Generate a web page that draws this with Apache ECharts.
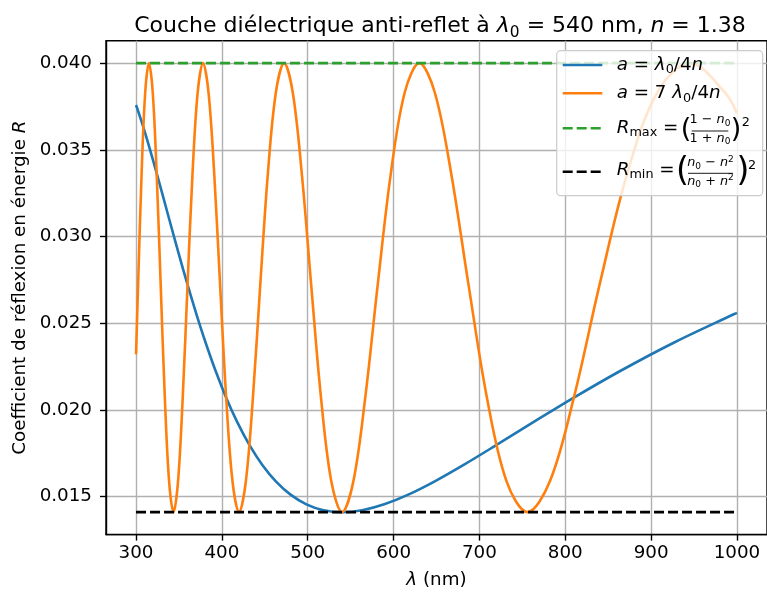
<!DOCTYPE html>
<html>
<head>
<meta charset="utf-8">
<script src="https://cdn.jsdelivr.net/npm/echarts@6/dist/echarts.min.js"></script>
<style>
  html, body { margin: 0; padding: 0; background: #fff; }
  #chart { width: 767px; height: 594px; }
</style>
</head>
<body>
<div id="chart"></div>
<script>
// courbe a = lambda0/4n
const lamBlue = [300, 301.40, 308.57, 316.10, 324.00, 332.31, 341.05, 350.27, 360.00, 370.29, 381.18, 392.73,
  405.00, 418.06, 432.00, 446.90, 462.86, 480.00, 498.46, 518.40, 540.00, 563.48, 589.09, 617.14, 648.00,
  682.11, 720.00, 762.35, 810.00, 864.00, 925.71, 996.92, 1000];
const rBlue = [0.037587, 0.037388, 0.036294, 0.035043, 0.033656, 0.032155, 0.030566, 0.028914, 0.027228, 0.025535,
  0.023866, 0.022249, 0.020713, 0.019284, 0.017989, 0.016850, 0.015888, 0.015121, 0.014563, 0.014223, 0.014111,
  0.014223, 0.014563, 0.015121, 0.015888, 0.016850, 0.017989, 0.019284, 0.020713, 0.022249, 0.023866, 0.025535,
  0.025603];

// courbe a = 7 lambda0/4n
const lamOrange = [300, 302.40, 306.49, 310.68, 315.00, 319.44, 324.00, 328.70, 333.53, 338.51, 343.64, 348.92,
  354.38, 360.00, 365.81, 371.80, 378.00, 384.41, 391.03, 397.89, 405.00, 412.36, 420.00, 427.92, 436.15,
  444.71, 453.60, 462.86, 472.50, 482.55, 493.04, 504.00, 515.45, 527.44, 540.00, 553.17, 567.00, 581.54,
  596.84, 612.97, 630.00, 648.00, 667.06, 687.27, 708.75, 731.61, 756.00, 782.07, 810.00, 840.00, 872.31,
  907.20, 945.00, 986.09, 1000];
const rOrange = [0.023212, 0.027228, 0.033656, 0.038308, 0.040000, 0.038308, 0.033656, 0.027228, 0.020713, 0.015888,
  0.014111, 0.015888, 0.020713, 0.027228, 0.033656, 0.038308, 0.040000, 0.038308, 0.033656, 0.027228, 0.020713,
  0.015888, 0.014111, 0.015888, 0.020713, 0.027228, 0.033656, 0.038308, 0.040000, 0.038308, 0.033656, 0.027228,
  0.020713, 0.015888, 0.014111, 0.015888, 0.020713, 0.027228, 0.033656, 0.038308, 0.040000, 0.038308, 0.033656,
  0.027228, 0.020713, 0.015888, 0.014111, 0.015888, 0.020713, 0.027228, 0.033656, 0.038308, 0.040000, 0.038308,
  0.037099];

const lamRange = [300, 1000];
const rMax = 0.040000;
const rMin = 0.014111;

const xTicks = [300, 400, 500, 600, 700, 800, 900, 1000];
const yTicks = [0.015, 0.020, 0.025, 0.030, 0.035, 0.040];

const F = 'DejaVu Sans';
const FS = 18.3;

function rich(fs, lh) {
  const s = Math.round(fs * 0.7 * 10) / 10;
  return {
    r: { fontFamily: F, fontSize: fs, lineHeight: lh, color: '#000', verticalAlign: 'middle' },
    i: { fontFamily: F, fontSize: fs, lineHeight: lh, color: '#000', fontStyle: 'italic', verticalAlign: 'middle' },
    sub: { fontFamily: F, fontSize: s, lineHeight: s, color: '#000', verticalAlign: 'bottom' },
    sup: { fontFamily: F, fontSize: s, lineHeight: s, color: '#000', verticalAlign: 'top' }
  };
}

function txt(x, y, text, fs, lh, align) {
  return {
    type: 'text', x: x, y: y, z: 110,
    style: { text: text, rich: rich(fs, lh), fontFamily: F, fontSize: fs, fill: '#000',
      align: align || 'left', verticalAlign: 'middle' }
  };
}
function seg(x1, y1, x2, y2, color, w, dash) {
  return {
    type: 'line', z: 110,
    shape: { x1: x1, y1: y1, x2: x2, y2: y2 },
    style: { stroke: color, lineWidth: w, lineDash: dash || null }
  };
}

const pairs = (xs, ys) => xs.map((x, i) => [x, ys[i]]);

const legendParts = [
  {
    type: 'rect', z: 105,
    shape: { x: 556.7, y: 50.7, width: 206, height: 145, r: 4 },
    style: { fill: 'rgba(255,255,255,0.8)', stroke: '#cccccc', lineWidth: 1.2 }
  },
  seg(562.7, 65, 602.3, 65, '#1f77b4', 2.6),
  seg(562.7, 93.3, 602.3, 93.3, '#ff7f0e', 2.6),
  seg(562.7, 128.3, 602.3, 128.3, '#2ca02c', 2.6, [10, 4]),
  seg(562.7, 171.7, 602.3, 171.7, '#000000', 2.6, [10, 4]),
  txt(616.7, 65, '{i|a}{r| = }{i|λ}{sub|0}{r|/4}{i|n}', FS, 22.8),
  txt(616.7, 93.3, '{i|a}{r| = 7 }{i|λ}{sub|0}{r|/4}{i|n}', FS, 22.8),
  // R_max
  txt(616.7, 127.8, '{i|R}{sub|max}{r| =}', FS, 22.8),
  txt(686, 129.5, '(', 27, 30, 'center'),
  txt(710, 120, '{r|1 − }{i|n}{sub|0}', 12.8, 16, 'center'),
  seg(691.7, 131, 728.3, 131, '#000', 0.9),
  txt(710, 138.5, '{r|1 + }{i|n}{sub|0}', 12.8, 16, 'center'),
  txt(736, 129.5, ')', 27, 30, 'center'),
  txt(741.7, 122.5, '{r|2}', 12.8, 16),
  // R_min
  txt(616.7, 170, '{i|R}{sub|min}{r| =}', FS, 22.8),
  txt(682.5, 172.5, '(', 33, 36, 'center'),
  txt(710.5, 163, '{i|n}{sub|0}{r| − }{i|n}{sup|2}', 12.8, 16, 'center'),
  seg(688, 173.3, 733, 173.3, '#000', 0.9),
  txt(710.5, 181.5, '{i|n}{sub|0}{r| + }{i|n}{sup|2}', 12.8, 16, 'center'),
  txt(743, 172.5, ')', 33, 36, 'center'),
  txt(748, 165.5, '{r|2}', 12.8, 16)
];

const chart = echarts.init(document.getElementById('chart'));
chart.setOption({
  animation: false,
  backgroundColor: '#fff',
  title: {
    text: '{r|Couche diélectrique anti-reflet à }{i|λ}{sub|0}{r| = 540 nm, }{i|n}{r| = 1.38}',
    left: 435, top: 8, textAlign: 'center',
    textStyle: { fontFamily: F, fontSize: 22, fontWeight: 'normal', color: '#000', rich: rich(22, 27.4) }
  },
  grid: {
    left: 106, top: 40.7, width: 666.6, height: 497.1,
    show: true, borderColor: '#000', borderWidth: 1.4, backgroundColor: 'transparent'
  },
  xAxis: {
    type: 'value', min: 265, max: 1035,
    name: '{i|λ}{r| (nm)}', nameLocation: 'middle', nameGap: 34,
    nameTextStyle: { fontFamily: F, fontSize: FS, color: '#000', rich: rich(FS, 22.8) },
    axisLine: { show: true, onZero: false, lineStyle: { color: '#000', width: 1.4 } },
    axisTick: { show: true, length: 6, customValues: xTicks, lineStyle: { color: '#000', width: 1.4 } },
    axisLabel: { customValues: xTicks, color: '#000', fontFamily: F, fontSize: FS, margin: 10,
      formatter: v => String(v) },
    splitLine: { show: true, lineStyle: { color: '#b0b0b0', width: 1.4 } }
  },
  yAxis: {
    type: 'value', min: 0.012817, max: 0.041294,
    name: '{r|Coefficient de réflexion en énergie }{i|R}', nameLocation: 'middle', nameGap: 73, nameRotate: 90,
    nameTextStyle: { fontFamily: F, fontSize: FS, color: '#000', rich: rich(FS, 22.8) },
    axisLine: { show: true, onZero: false, lineStyle: { color: '#000', width: 1.4 } },
    axisTick: { show: true, length: 6, customValues: yTicks, lineStyle: { color: '#000', width: 1.4 } },
    axisLabel: { customValues: yTicks, color: '#000', fontFamily: F, fontSize: FS, margin: 14,
      formatter: v => v.toFixed(3) },
    splitLine: { show: true, lineStyle: { color: '#b0b0b0', width: 1.4 } }
  },
  series: [
    { name: 'a = λ0/4n', type: 'line', data: pairs(lamBlue, rBlue), showSymbol: false, smooth: 0.35,
      lineStyle: { color: '#1f77b4', width: 2.6 }, itemStyle: { color: '#1f77b4' } },
    { name: 'a = 7 λ0/4n', type: 'line', data: pairs(lamOrange, rOrange), showSymbol: false, smooth: 0.35,
      lineStyle: { color: '#ff7f0e', width: 2.6 }, itemStyle: { color: '#ff7f0e' } },
    { name: 'Rmax', type: 'line', data: lamRange.map(x => [x, rMax]), showSymbol: false,
      lineStyle: { color: '#2ca02c', width: 2.6, type: [10, 4] }, itemStyle: { color: '#2ca02c' } },
    { name: 'Rmin', type: 'line', data: lamRange.map(x => [x, rMin]), showSymbol: false,
      lineStyle: { color: '#000000', width: 2.6, type: [10, 4] }, itemStyle: { color: '#000' } }
  ],
  graphic: legendParts
});
</script>
</body>
</html>
